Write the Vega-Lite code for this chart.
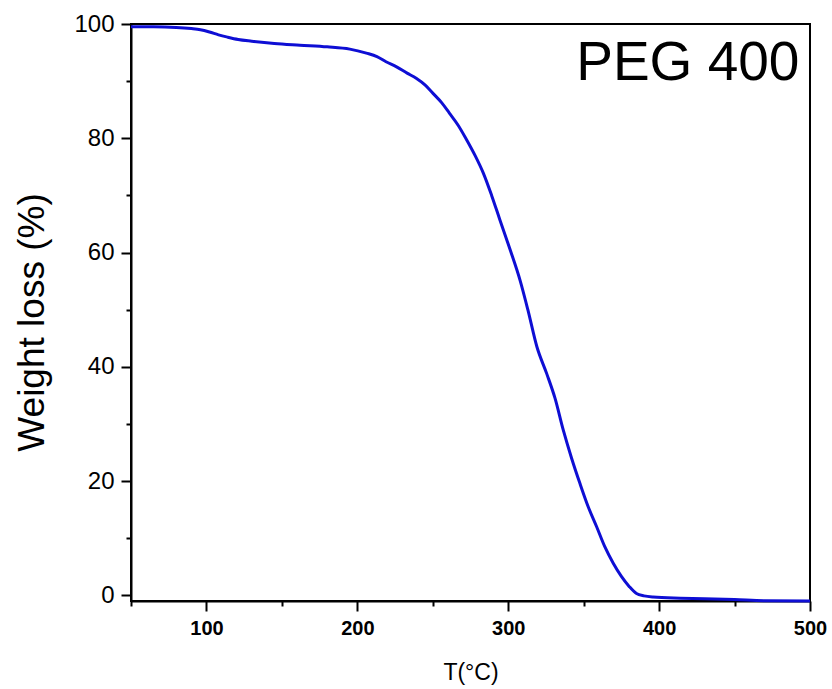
{
  "$schema": "https://vega.github.io/schema/vega-lite/v6.json",
  "width": 679,
  "height": 577,
  "autosize": {"type": "none"},
  "padding": {"left": 131, "top": 24, "right": 22, "bottom": 88},
  "background": "white",
  "config": {"view": {"stroke": "black", "strokeWidth": 2}, "font": "Liberation Sans"},
  "datasets": {
    "tga": [
      {"T": 50, "W": 99.5}, {"T": 65, "W": 99.5}, {"T": 80, "W": 99.4}, {"T": 90, "W": 99.2},
      {"T": 96, "W": 99.0}, {"T": 102, "W": 98.6}, {"T": 108, "W": 98.1}, {"T": 114, "W": 97.7},
      {"T": 121, "W": 97.3}, {"T": 130, "W": 97.0}, {"T": 145, "W": 96.6}, {"T": 162, "W": 96.3},
      {"T": 180, "W": 96.0}, {"T": 195, "W": 95.6}, {"T": 206, "W": 94.9}, {"T": 213, "W": 94.3},
      {"T": 219, "W": 93.4}, {"T": 226, "W": 92.5}, {"T": 233, "W": 91.4}, {"T": 239, "W": 90.5},
      {"T": 245, "W": 89.3}, {"T": 250, "W": 87.9}, {"T": 256, "W": 86.2}, {"T": 261, "W": 84.4},
      {"T": 267, "W": 82.2}, {"T": 272.5, "W": 79.7}, {"T": 278, "W": 77.0}, {"T": 283.5, "W": 73.9},
      {"T": 289, "W": 70.0}, {"T": 294.5, "W": 65.7}, {"T": 301, "W": 60.7}, {"T": 308, "W": 55.0},
      {"T": 313, "W": 50.0}, {"T": 319, "W": 43.5}, {"T": 325.5, "W": 38.8}, {"T": 331, "W": 34.5},
      {"T": 336.5, "W": 28.9}, {"T": 342, "W": 24.0}, {"T": 347.5, "W": 19.6}, {"T": 353, "W": 15.5},
      {"T": 358.6, "W": 12.0}, {"T": 364, "W": 8.5}, {"T": 369.6, "W": 5.6}, {"T": 375, "W": 3.3},
      {"T": 380, "W": 1.6}, {"T": 385, "W": 0.3}, {"T": 390, "W": -0.1}, {"T": 396, "W": -0.3},
      {"T": 414, "W": -0.5}, {"T": 430, "W": -0.6}, {"T": 450, "W": -0.75}, {"T": 470, "W": -0.95},
      {"T": 500, "W": -1.0}
    ],
    "labels": [{"T": 493, "W": 90.2, "label": "PEG 400"}]
  },
  "layer": [
    {
      "data": {"name": "tga"},
      "mark": {"type": "line", "color": "#0e0ed4", "strokeWidth": 3, "interpolate": "monotone"},
      "encoding": {
        "x": {
          "field": "T", "type": "quantitative",
          "scale": {"domain": [50, 500], "nice": false, "zero": false},
          "axis": {
            "title": "T(°C)",
            "values": [50, 100, 150, 200, 250, 300, 350, 400, 450, 500],
            "labelExpr": "datum.value % 100 === 0 ? datum.label : ''",
            "tickSize": {"condition": {"test": "datum.value % 100 === 0", "value": 10}, "value": 5},
            "tickWidth": 2, "tickColor": "black",
            "domainColor": "black", "domainWidth": 2,
            "labelFontSize": 20, "labelFontWeight": "bold", "labelColor": "black",
            "labelPadding": 7, "labelFlush": false, "labelOverlap": false, "labelBound": false,
            "titleFontSize": 23, "titleFontWeight": "normal", "titleColor": "black",
            "titleBaseline": "alphabetic", "titleY": 78, "titleAlign": "center",
            "grid": false
          }
        },
        "y": {
          "field": "W", "type": "quantitative",
          "scale": {"domain": [-1, 100], "nice": false, "zero": false},
          "axis": {
            "title": "Weight loss (%)",
            "values": [0, 10, 20, 30, 40, 50, 60, 70, 80, 90, 100],
            "labelExpr": "datum.value % 20 === 0 ? datum.label : ''",
            "tickSize": {"condition": {"test": "datum.value % 20 === 0", "value": 10}, "value": 5},
            "tickWidth": 2, "tickColor": "black",
            "domainColor": "black", "domainWidth": 2,
            "labelFontSize": 24, "labelColor": "black", "labelPadding": 7,
            "labelOverlap": false, "labelBound": false,
            "titleFontSize": 37, "titleFontWeight": "normal", "titleColor": "black",
            "titleX": -88, "titleY": 298, "titleAlign": "center", "titleBaseline": "alphabetic", "titleAngle": -90,
            "grid": false
          }
        }
      }
    },
    {
      "data": {"name": "labels"},
      "mark": {"type": "text", "align": "right", "baseline": "alphabetic", "fontSize": 55, "font": "Liberation Sans", "color": "black"},
      "encoding": {
        "x": {"field": "T", "type": "quantitative"},
        "y": {"field": "W", "type": "quantitative"},
        "text": {"field": "label"}
      }
    }
  ]
}
